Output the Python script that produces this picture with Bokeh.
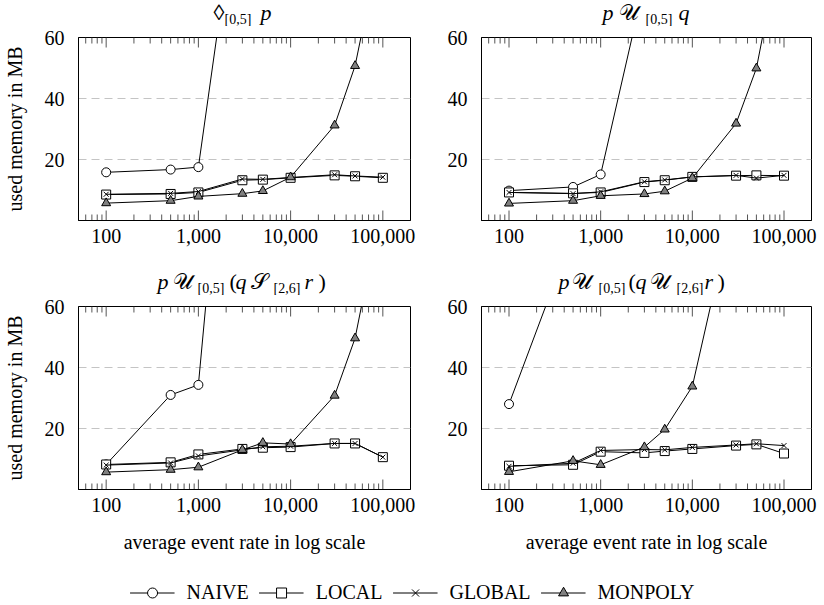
from bokeh.plotting import figure
from bokeh.models import Range1d, FixedTicker, Label, Legend, LegendItem
from bokeh.layouts import column, row
from bokeh.embed import file_html
from bokeh.resources import INLINE

# ---------------- data ----------------
RATES = [100, 500, 1000, 3000, 5000, 10000, 30000, 50000, 100000]
X_TICKS = [100, 1000, 10000, 100000]
X_TICK_LABELS = ["100", "1,000", "10,000", "100,000"]
Y_TICKS = [20, 40, 60]
SERIES = ["NAIVE", "LOCAL", "GLOBAL", "MONPOLY"]

# panel 1: <>[0,5] p
P1_NAIVE = [15.8, 16.7, 17.5, 120]
P1_LOCAL = [8.5, 8.7, 9.2, 13.2, 13.4, 14.0, 14.8, 14.5, 14.0]
P1_GLOBAL = [8.6, 8.9, 9.5, 13.6, 13.5, 14.1, 15.0, 14.6, 14.2]
P1_MONPOLY = [5.7, 6.5, 7.9, 8.8, 9.7, 14.2, 31.2, 50.7, 95]

# panel 2: p U[0,5] q
P2_NAIVE = [9.8, 11.0, 15.1, 77.7]
P2_LOCAL = [9.2, 8.9, 9.2, 12.6, 13.2, 14.3, 14.7, 14.8, 14.7]
P2_GLOBAL = [9.2, 8.8, 9.4, 12.7, 13.3, 14.3, 14.8, 13.9, 14.8]
P2_MONPOLY = [5.6, 6.5, 8.1, 8.7, 9.6, 13.9, 31.8, 49.9, 96]

# panel 3: p U[0,5] (q S[2,6] r)
P3_NAIVE = [8.2, 31.0, 34.3, 190]
P3_LOCAL = [8.2, 8.9, 11.5, 13.3, 13.7, 13.9, 15.1, 15.1, 10.6]
P3_GLOBAL = [8.0, 8.7, 11.0, 13.0, 14.0, 14.2, 15.1, 15.1, 10.6]
P3_MONPOLY = [5.7, 6.5, 7.3, 13.0, 15.3, 14.9, 30.8, 49.6, 95]

# panel 4: p U[0,5] (q U[2,6] r)
P4_NAIVE = [28.0, 84]
P4_LOCAL = [7.8, 8.1, 12.4, 12.0, 12.6, 13.3, 14.4, 14.8, 11.8]
P4_GLOBAL = [7.6, 8.6, 12.8, 13.1, 13.0, 13.8, 14.6, 15.0, 14.4]
P4_MONPOLY = [5.8, 9.4, 8.1, 13.9, 19.7, 33.8, 97]

X_START, X_END = 10 ** 1.7, 10 ** 5.3
Y_MIN, Y_MAX = 0, 60
MINOR_TICKS = [m * 10 ** e for e in range(1, 6) for m in range(2, 10)
               if X_START <= m * 10 ** e <= X_END]

FONT = "Liberation Serif"
TICK_COLOR = "#555555"
STYLES = {
    "NAIVE": dict(marker="circle", fill_color="white", size=9),
    "LOCAL": dict(marker="square", fill_color="white", size=9),
    "GLOBAL": dict(marker="x", fill_color=None, size=7),
    "MONPOLY": dict(marker="triangle", fill_color="#808080", size=9),
}

# title pieces: (text, kind, x offset from the panel's frame left)
TITLES = [
    [("\u25CA", "main", 136), ("[0,5]", "sub", 147), ("p", "it", 183)],
    [("p", "it", 124), ("\U0001D4B0", "main", 140), ("[0,5]", "sub", 167), ("q", "it", 200)],
    [("p", "it", 80), ("\U0001D4B0", "main", 95), ("[0,5]", "sub", 120), ("(", "main", 152),
     ("q", "it", 158), ("\U0001D4AE", "main", 173), ("[2,6]", "sub", 196), ("r", "it", 227),
     (")", "main", 241)],
    [("p", "it", 80), ("\U0001D4B0", "main", 93), ("[0,5]", "sub", 120), ("(", "main", 150),
     ("q", "it", 157), ("\U0001D4B0", "main", 171), ("[2,6]", "sub", 198), ("r", "it", 226),
     (")", "main", 239)],
]

PAGE_W = 824
FRAME_W, FRAME_H = 333, 183
LEFT_W, RIGHT_W = 444, 380
LEFT_BORDER, RIGHT_BORDER = 77, 34
TOP_BORDER = 11


def make_panel(width, height, left, top, show_ylabel, show_xlabel):
    p = figure(width=width, height=height, x_axis_type="log",
               x_range=Range1d(X_START, X_END), y_range=Range1d(Y_MIN, Y_MAX),
               output_backend="svg", toolbar_location=None,
               min_border_left=left, min_border_right=width - left - FRAME_W,
               min_border_top=top, min_border_bottom=height - top - FRAME_H)
    p.background_fill_color = "white"
    p.border_fill_color = "white"
    p.outline_line_color = "black"
    p.outline_line_alpha = 1
    p.outline_line_width = 1
    p.xgrid.visible = False
    p.ygrid.ticker = FixedTicker(ticks=Y_TICKS[:-1])
    p.ygrid.grid_line_color = "#c4c4c4"
    p.ygrid.grid_line_dash = "8 5"
    p.ygrid.grid_line_width = 1

    xa = p.xaxis[0]
    xa.ticker = FixedTicker(ticks=X_TICKS, minor_ticks=MINOR_TICKS)
    xa.major_label_overrides = {t: l for t, l in zip(X_TICKS, X_TICK_LABELS)}
    xa.major_tick_in = 0
    xa.major_tick_out = 0
    xa.minor_tick_in = 0
    xa.minor_tick_out = 0
    xa.major_tick_line_color = None
    xa.minor_tick_line_color = None
    xa.axis_line_color = "black"
    xa.major_label_text_font = FONT
    xa.major_label_text_font_size = "20px"
    xa.major_label_text_color = "black"
    xa.major_label_standoff = 8
    if show_xlabel:
        xa.axis_label = "average event rate in log scale"
        xa.axis_label_text_font = FONT
        xa.axis_label_text_font_size = "20px"
        xa.axis_label_text_font_style = "normal"
        xa.axis_label_text_color = "black"
        xa.axis_label_standoff = 16

    # inward ticks on bottom and top edges of the frame
    for y0, ang in ((Y_MIN, 90), (Y_MAX, -90)):
        p.ray(x=X_TICKS, y=y0, length=10, length_units="screen", angle=ang,
              angle_units="deg", line_color=TICK_COLOR, line_width=1)
        p.ray(x=MINOR_TICKS, y=y0, length=6, length_units="screen", angle=ang,
              angle_units="deg", line_color=TICK_COLOR, line_width=1)

    ya = p.yaxis[0]
    ya.ticker = FixedTicker(ticks=Y_TICKS)
    ya.major_tick_line_color = None
    ya.minor_tick_line_color = None
    ya.axis_line_color = "black"
    ya.major_label_text_font = FONT
    ya.major_label_text_font_size = "20px"
    ya.major_label_text_color = "black"
    ya.major_label_standoff = 8
    if show_ylabel:
        ya.axis_label = "used memory in MB"
        ya.axis_label_text_font = FONT
        ya.axis_label_text_font_size = "20px"
        ya.axis_label_text_font_style = "normal"
        ya.axis_label_text_color = "black"
        ya.axis_label_standoff = 16
    return p


def add_series(p, data):
    for name, ys in zip(SERIES, data):
        xs = RATES[:len(ys)]
        st = STYLES[name]
        p.line(xs, ys, line_color="black", line_width=1)
        p.scatter(xs, ys, marker=st["marker"], size=st["size"], fill_color=st["fill_color"],
                  line_color="black", line_width=1)


def make_strip(height):
    s = figure(width=PAGE_W, height=height, output_backend="svg", toolbar_location=None,
               x_range=Range1d(0, 1), y_range=Range1d(0, 1),
               x_axis_location=None, y_axis_location=None, min_border=0,
               min_border_left=0, min_border_right=0, min_border_top=0, min_border_bottom=0)
    s.outline_line_color = None
    s.xgrid.visible = False
    s.ygrid.visible = False
    s.background_fill_color = "white"
    s.border_fill_color = "white"
    return s


def add_title(strip, pieces, frame_left, base_main, base_sub):
    # base_* give the bottom of each text line, measured up from the strip's bottom
    for text, kind, x in pieces:
        size = "14px" if kind == "sub" else "22px"
        style = "italic" if kind == "it" else "normal"
        y = base_sub if kind == "sub" else base_main
        strip.add_layout(Label(x=frame_left + x, y=y, x_units="screen", y_units="screen",
                               text=text, text_font=FONT, text_font_size=size,
                               text_font_style=style, text_baseline="bottom",
                               text_align="left", text_color="black"))


PANEL_DATA = [
    [P1_NAIVE, P1_LOCAL, P1_GLOBAL, P1_MONPOLY],
    [P2_NAIVE, P2_LOCAL, P2_GLOBAL, P2_MONPOLY],
    [P3_NAIVE, P3_LOCAL, P3_GLOBAL, P3_MONPOLY],
    [P4_NAIVE, P4_LOCAL, P4_GLOBAL, P4_MONPOLY],
]

tl = make_panel(LEFT_W, TOP_BORDER + FRAME_H + 42, LEFT_BORDER, TOP_BORDER, True, False)
tr = make_panel(RIGHT_W, TOP_BORDER + FRAME_H + 42, RIGHT_BORDER, TOP_BORDER, False, False)
bl = make_panel(LEFT_W, TOP_BORDER + FRAME_H + 71, LEFT_BORDER, TOP_BORDER, True, True)
br = make_panel(RIGHT_W, TOP_BORDER + FRAME_H + 71, RIGHT_BORDER, TOP_BORDER, False, True)
for p, data in zip([tl, tr, bl, br], PANEL_DATA):
    add_series(p, data)

FRAME_LEFTS = [LEFT_BORDER, LEFT_W + RIGHT_BORDER]
title_top = make_strip(26)
add_title(title_top, TITLES[0], FRAME_LEFTS[0], 1.5, 0)
add_title(title_top, TITLES[1], FRAME_LEFTS[1], 1.5, 0)
title_bottom = make_strip(33)
add_title(title_bottom, TITLES[2], FRAME_LEFTS[0], 1.5, 0)
add_title(title_bottom, TITLES[3], FRAME_LEFTS[1], 1.5, 0)

# legend strip (its renderers use panel 1 data, which lies outside this strip's range)
leg = make_strip(45)
items = []
for name, ys in zip(SERIES, PANEL_DATA[0]):
    st = STYLES[name]
    xs = RATES[:len(ys)]
    lr = leg.line(xs, ys, line_color="black", line_width=1)
    sr = leg.scatter(xs, ys, marker=st["marker"], size=st["size"], fill_color=st["fill_color"],
                     line_color="black", line_width=1)
    items.append(LegendItem(label=name, renderers=[lr, sr]))
legend = Legend(items=items, orientation="horizontal", location="bottom_center",
                glyph_width=45, glyph_height=25, label_standoff=12, spacing=10,
                padding=0, margin=0, border_line_color=None, background_fill_alpha=0,
                label_text_font=FONT, label_text_font_size="20px", label_text_color="black")
leg.add_layout(legend, "center")

layout = column(title_top, row(tl, tr), title_bottom, row(bl, br), leg)
open("out.html", "w").write(file_html(layout, INLINE))
